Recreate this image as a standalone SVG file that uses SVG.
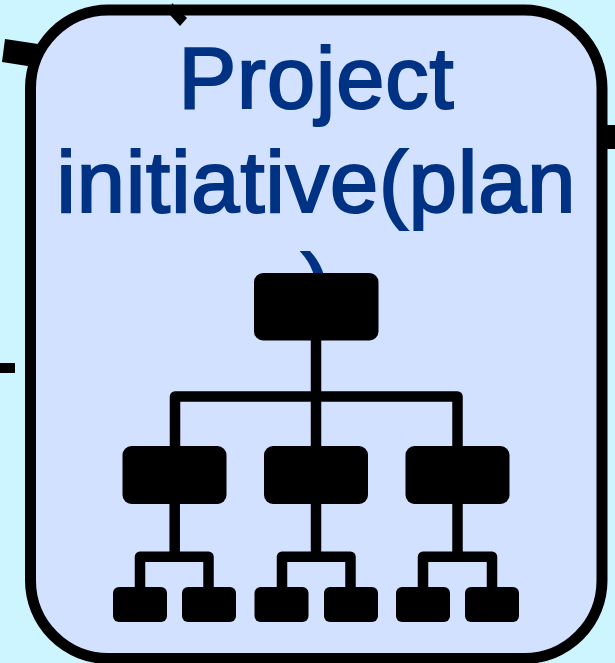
<svg xmlns="http://www.w3.org/2000/svg" width="615" height="663" viewBox="0 0 615 663">
<style>
.l{fill:none;stroke:#000;stroke-width:10.5;stroke-linejoin:round}
.t{font-family:"Liberation Sans",Arial,sans-serif;font-size:86.5px;letter-spacing:1px;fill:#003284;stroke:#003284;stroke-width:2.2px;text-anchor:middle}
</style>
<rect width="615" height="663" fill="#ccf5ff"/>
<g id="node">
<rect x="30.500" y="10" width="571.500" height="648.500" rx="78" ry="78" fill="#d2e1ff" stroke="#000" stroke-width="11"/>
<text class="t" x="316.500" y="108">Project</text>
<text class="t" x="316.500" y="211.500">initiative(plan</text>
<text class="t" x="316.500" y="315">)</text>
<path class="l" d="M316 340V447M175 447V396.500H457.500V447M174.700 503V556.700H140V590M174.700 556.700H208.500V590M316 503V556.700H282V590M316 556.700H350.500V590M457.500 503V556.700H423V590M457.500 556.700H492V590"/>
<rect x="254" y="273" width="124.500" height="67.500" rx="9"/>
<rect x="122.500" y="446" width="104" height="58" rx="9"/>
<rect x="264" y="446" width="104" height="58" rx="9"/>
<rect x="405.500" y="446" width="104" height="58" rx="9"/>
<rect x="113" y="587" width="54" height="35" rx="6"/>
<rect x="182" y="587" width="54" height="35" rx="6"/>
<rect x="254.500" y="587" width="54" height="35" rx="6"/>
<rect x="324" y="587" width="54" height="35" rx="6"/>
<rect x="396" y="587" width="54" height="35" rx="6"/>
<rect x="465" y="587" width="54" height="35" rx="6"/>
</g>
<g id="connectors">
<polygon points="5,39 38,44 34,67 2,62" fill="#000"/>
<polygon points="172,3 187,18 180,26 170,15" fill="#000"/>
<rect x="600" y="125" width="15" height="24" fill="#000"/>
<rect x="0" y="363" width="15" height="10" fill="#000"/>
</g>
</svg>
